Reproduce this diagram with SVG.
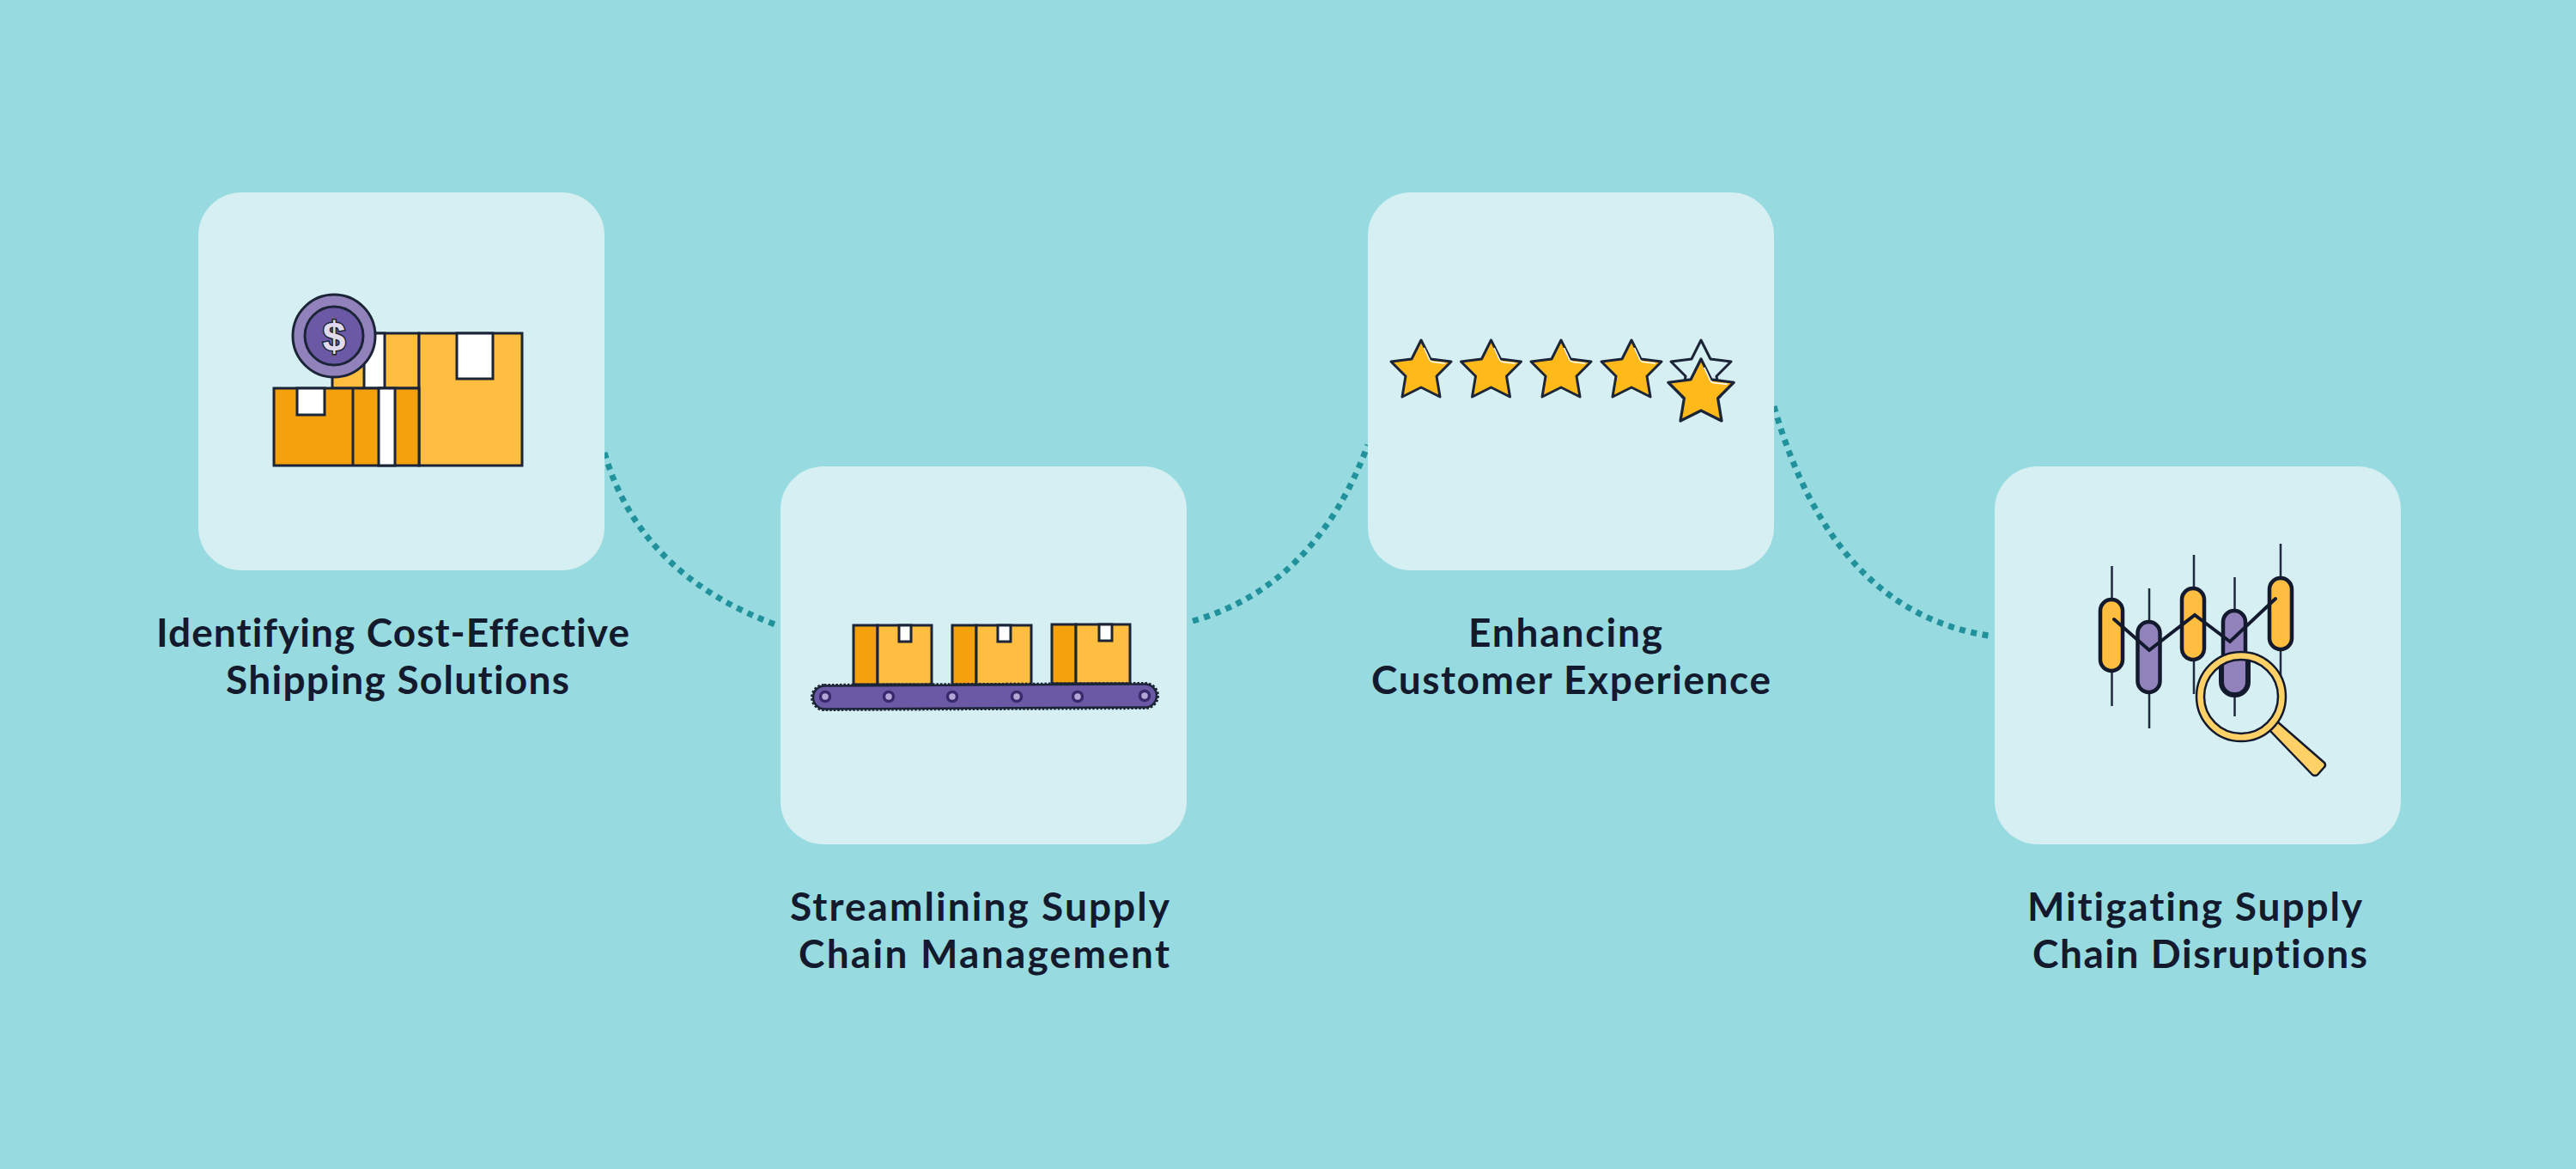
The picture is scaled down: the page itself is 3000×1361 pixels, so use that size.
<svg xmlns="http://www.w3.org/2000/svg" width="3000" height="1361" viewBox="0 0 3000 1361">
<style>
.card{fill:#D5EFF2}
.lbl{font-family:"Lato","Liberation Sans",sans-serif;font-weight:700;font-size:46px;fill:#131A2E;font-variant-ligatures:none}
.conn{fill:none;stroke:#21929B;stroke-width:7;stroke-dasharray:7 6.6}
.o{stroke:#1B2537;stroke-width:3;stroke-linejoin:miter}
.dk{fill:#F4A10B}.yl{fill:#FFBE3F}.wh{fill:#fff}
.star{fill:#FFBA1A;stroke:#1B2537;stroke-width:3;stroke-linejoin:round}
.hl{fill:none;stroke:#fff;stroke-width:1.5}
.wick{stroke:#1F2A3F;stroke-width:2.5;fill:none}
.bar{stroke:#131A2E;stroke-width:4.5}
.py{fill:#FFBE3F}.pp{fill:#9282BC}
.roll{fill:#B5A6D6;stroke:#392A6E;stroke-width:3.5}
</style>
<defs>
<path id="s" d="M0 0L11 22L35 25L18 42L22 66L0 55L-22 66L-18 42L-35 25L-11 22Z"/>
<path id="h" d="M3.500 9L10 23Q11 25 14 25.500L28 27"/>
<clipPath id="lens"><circle cx="2610" cy="811" r="44"/></clipPath>
</defs>
<rect width="3000" height="1361" fill="#97DBE0"/>
<g id="connectors">
<path class="conn" d="M704 527Q745 670 908 729"/>
<path class="conn" d="M1389 723Q1532 682 1593 518"/>
<path class="conn" d="M2066 473Q2135 715 2322 741"/>
</g>
<g id="node-1">
<rect class="card" x="231" y="224" width="473" height="440" rx="50"/>
<rect class="yl o" x="387" y="388" width="101" height="64"/>
<rect class="wh o" x="424" y="388" width="24" height="64"/>
<rect class="yl o" x="488" y="388" width="120" height="154"/>
<rect class="wh o" x="532" y="388" width="42" height="53"/>
<rect class="dk o" x="319" y="452" width="169" height="90"/>
<path class="o" fill="none" d="M411 452V542"/>
<rect class="wh o" x="441" y="452" width="19" height="90"/>
<rect class="wh o" x="346" y="452" width="32" height="31"/>
<circle cx="389" cy="391" r="48" fill="#9282BC" stroke="#1B2537" stroke-width="3"/>
<circle cx="389" cy="391" r="34" fill="#6C59A6" stroke="#1B2537" stroke-width="3"/>
<text x="389" y="408" text-anchor="middle" font-family="'Liberation Sans',sans-serif" font-weight="700" font-size="48" fill="#E0DAEC" stroke="#1B2537" stroke-width="3" paint-order="stroke">$</text>
<text class="lbl" x="182" y="753" textLength="551">Identifying Cost-Effective</text>
<text class="lbl" x="263" y="808" textLength="400">Shipping Solutions</text>
</g>
<g id="node-2">
<rect class="card" x="909" y="543" width="473" height="440" rx="50"/>
<rect class="dk o" x="994" y="728" width="28" height="69"/><rect class="yl o" x="1022" y="728" width="63" height="69"/><rect class="wh o" x="1047" y="728" width="14" height="19"/>
<rect class="dk o" x="1109" y="728" width="28" height="69"/><rect class="yl o" x="1137" y="728" width="64" height="69"/><rect class="wh o" x="1162" y="728" width="15" height="19"/>
<rect class="dk o" x="1225" y="727" width="28" height="69"/><rect class="yl o" x="1253" y="727" width="63" height="69"/><rect class="wh o" x="1280" y="727" width="15" height="19"/>
<g transform="rotate(-0.3 1147 811)">
<rect x="946" y="797" width="402" height="28" rx="14" fill="none" stroke="#1B2537" stroke-width="4" stroke-dasharray="2.500 2"/>
<rect x="947" y="797.500" width="400" height="27" rx="13.500" fill="#6C59A6" stroke="#1B2537" stroke-width="2.500"/>
</g>
<circle class="roll" cx="961" cy="811" r="5.500"/><circle class="roll" cx="1035" cy="811" r="5.500"/><circle class="roll" cx="1109" cy="811" r="5.500"/><circle class="roll" cx="1184" cy="811" r="5.500"/><circle class="roll" cx="1255" cy="811" r="5.500"/><circle class="roll" cx="1333" cy="810" r="5.500"/>
<text class="lbl" x="920" y="1072" textLength="442">Streamlining Supply</text>
<text class="lbl" x="930" y="1127" textLength="432">Chain Management</text>
</g>
<g id="node-3">
<rect class="card" x="1593" y="224" width="473" height="440" rx="50"/>
<use href="#s" class="star" x="1655" y="396"/><use href="#h" class="hl" x="1655" y="396"/>
<use href="#s" class="star" x="1736.500" y="396"/><use href="#h" class="hl" x="1736.500" y="396"/>
<use href="#s" class="star" x="1818" y="396"/><use href="#h" class="hl" x="1818" y="396"/>
<use href="#s" class="star" x="1900" y="396"/><use href="#h" class="hl" x="1900" y="396"/>
<use href="#s" x="1981" y="396" fill="none" stroke="#1B2537" stroke-width="3" stroke-linejoin="round"/>
<g transform="translate(1981 418) scale(1.09)"><use href="#s" class="star"/><use href="#h" class="hl"/></g>
<text class="lbl" x="1710" y="753" textLength="226">Enhancing</text>
<text class="lbl" x="1597" y="808" textLength="465">Customer Experience</text>
</g>
<g id="node-4">
<rect class="card" x="2323" y="543" width="473" height="440" rx="50"/>
<path class="wick" d="M2459.500 659V822M2503 685V848M2555 646V808M2602.500 672V834M2656 633V787"/>
<rect class="py bar" x="2446" y="698" width="26" height="83" rx="13"/>
<rect class="pp bar" x="2489.500" y="724" width="26" height="82" rx="13"/>
<rect class="py bar" x="2541" y="685" width="26" height="83" rx="13"/>
<rect class="pp bar" x="2589" y="711" width="26" height="98" rx="13"/>
<rect class="py bar" x="2643" y="673" width="26" height="83" rx="13"/>
<path d="M2462 721L2503 757L2556 716L2597 747L2650 697" fill="none" stroke="#131A2E" stroke-width="4" stroke-linecap="round"/>
<rect clip-path="url(#lens)" x="2587" y="700" width="31" height="109" rx="15" fill="#9282BC" stroke="#131A2E" stroke-width="6"/>
<path d="M2652 840L2707 888Q2709 891 2707 893L2699 902Q2696 904 2693 902L2643 850Z" fill="#FFD166" stroke="#131A2E" stroke-width="2.500" stroke-linejoin="round"/>
<path fill="#FFD166" fill-rule="evenodd" stroke="#131A2E" stroke-width="2.500" d="M2558 811a52 52 0 1 0 104 0a52 52 0 1 0 -104 0ZM2567 811a43 43 0 1 0 86 0a43 43 0 1 0 -86 0Z"/>
<text class="lbl" x="2361" y="1072" textLength="390">Mitigating Supply</text>
<text class="lbl" x="2367" y="1127" textLength="390">Chain Disruptions</text>
</g>
</svg>
